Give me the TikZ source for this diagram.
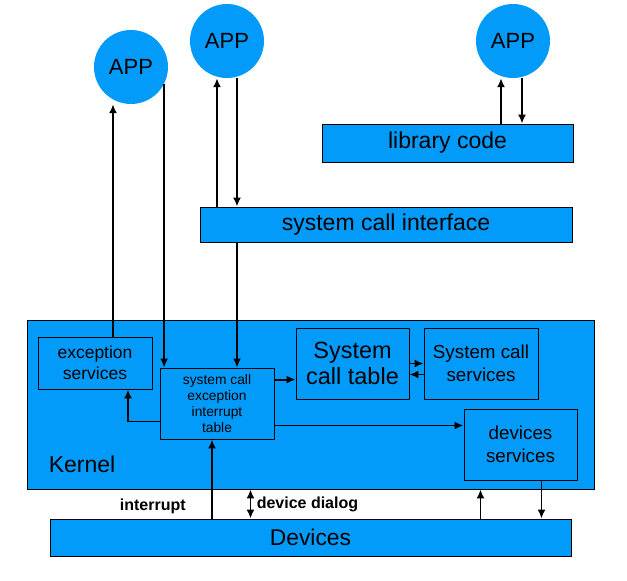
\documentclass[tikz,border=0pt]{standalone}
\usepackage{fontspec}
\setmainfont{Liberation Sans}
\usetikzlibrary{positioning, arrows.meta}
\definecolor{appblue}{RGB}{3,155,250}
\tikzset{>={Latex[length=9pt,width=8pt]},
  app/.style={circle, fill=appblue, minimum size=74pt, inner sep=0pt, font=\fontsize{22}{24}\selectfont},
  box/.style={draw, fill=appblue, line width=0.9pt, inner sep=0pt, align=center},
  link/.style={->, line width=1.9pt}}

\begin{document}
\begin{tikzpicture}[x=1pt, y=-1pt]
\useasboundingbox (0,0) rectangle (627,581);
\node[app] (app1) at (131,67) {APP};
\node[app] (app2) at (227,41) {APP};
\node[app] (app3) at (513,41) {APP};
\node[box, minimum width=251pt, minimum height=38pt, font=\fontsize{23}{26}\selectfont] (lib) at (447.5,143) {library code};
\node[box, minimum width=372pt, minimum height=35pt, font=\fontsize{23}{26}\selectfont] (sci) at (386,224.5) {system call interface};
\node[box, minimum width=567pt, minimum height=169pt] (kern) at (310.5,404.5) {};
\node[font=\fontsize{23}{26}\selectfont] (kname) at (82,464) {Kernel};
\node[box, minimum width=114pt, minimum height=52pt, font=\fontsize{17.5}{21}\selectfont] (exc) at (95,363) {exception\\services};
\node[box, minimum width=114pt, minimum height=71pt, font=\fontsize{13.8}{16}\selectfont] (tab) at (217,403.5) {system call\\exception\\interrupt\\table};
\node[box, minimum width=113pt, minimum height=71pt, font=\fontsize{23.5}{26}\selectfont] (sct) at (352.5,363.5) {System\\call table};
\node[box, minimum width=114pt, minimum height=71pt, font=\fontsize{18.8}{23}\selectfont] (scs) at (481,363.5) {System call\\services};
\node[box, minimum width=113pt, minimum height=71pt, font=\fontsize{18.8}{23}\selectfont] (dsv) at (520.5,444.5) {devices\\services};
\node[box, minimum width=521pt, minimum height=37pt, font=\fontsize{22.8}{26}\selectfont] (dev) at (310.5,537.5) {Devices};

\draw[link] ([xshift=18pt]exc.north) -- ([xshift=18pt]exc.north |- app1.south);
\draw[link] (app1.-27) -- (app1.-27 |- tab.north);
\draw[link] ([xshift=-10pt]sci.north -| app2.south) -- ([xshift=-10pt]app2.south);
\draw[link] ([xshift=10pt]app2.south) -- ([xshift=10pt]app2.south |- sci.north);
\draw[link] ([xshift=-12pt]lib.north -| app3.south) -- ([xshift=-12pt]app3.south);
\draw[link] ([xshift=9pt]app3.south) -- ([xshift=9pt]app3.south |- lib.north);
\draw[link] ([xshift=20pt]tab.north |- sci.south) -- ([xshift=20pt]tab.north);
\draw[link] ([yshift=-12pt]tab.north east) -- ([yshift=-12pt]tab.north east -| sct.west);
\draw[link] (sct.east) -- (scs.west);
\draw[link] ([yshift=-11pt]scs.west) -- ([yshift=-11pt]sct.east);
\draw[link] ([yshift=-18pt]tab.west) -| ([xshift=33pt]exc.south);
\draw[link] ([yshift=-22pt]tab.east) -- ([yshift=-22pt]tab.east -| dsv.west);
\draw[link] ([xshift=-5pt]tab.south |- dev.north) -- ([xshift=-5pt]tab.south)
  node[pos=0.16, left=22pt, font=\fontsize{16}{18}\selectfont\bfseries] (intr) {interrupt};
\draw[link, <->] ([xshift=-60pt]dev.north) -- ([xshift=-60pt]dev.north |- kern.south)
  node[midway, right=2pt, font=\fontsize{16}{18}\selectfont\bfseries] (dlg) {device dialog};
\draw[link] ([xshift=170pt]dev.north) -- ([xshift=170pt]dev.north |- kern.south);
\draw[link] ([xshift=21pt]dsv.south) -- ([xshift=21pt]dsv.south |- dev.north);
\end{tikzpicture}
\end{document}
